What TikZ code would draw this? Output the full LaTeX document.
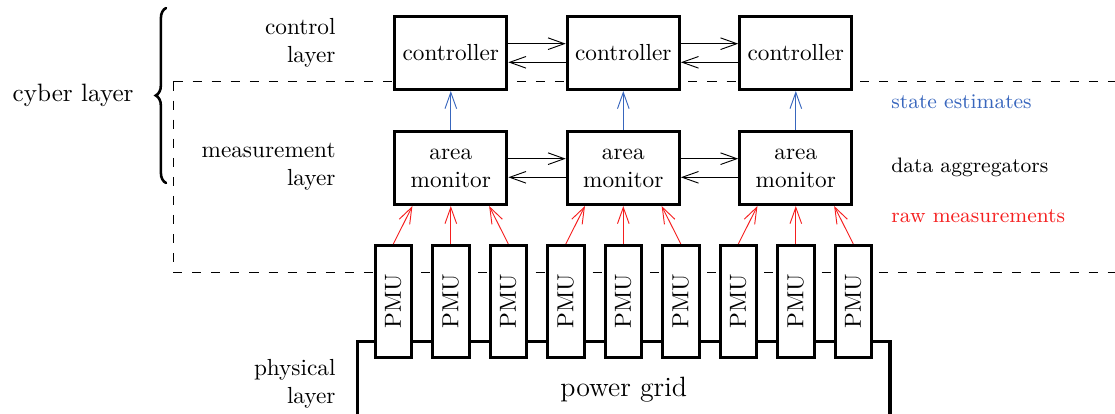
\documentclass[tikz,border=0pt]{standalone}
\usepackage{graphicx}
\usetikzlibrary{arrows.meta,calc,decorations.pathreplacing}
\definecolor{estblue}{rgb}{0.22,0.4,0.74}
\definecolor{rawred}{rgb}{0.96,0.12,0.12}
\begin{document}
\begin{tikzpicture}[x=0.43pt,y=-0.43pt,
  box/.style={draw,line width=1.3pt,fill=white,minimum width=48.2pt,minimum height=31.4pt,inner sep=1pt,align=center},
  pmubox/.style={draw,line width=1.3pt,fill=white,minimum width=15.7pt,minimum height=48.2pt,inner sep=0pt},
  gridbox/.style={draw,line width=1.3pt,fill=white,minimum width=229pt,minimum height=41.7pt,inner sep=0pt},
  link/.style={-{Straight Barb[length=7pt,width=5pt]},line width=0.4pt},
  estlink/.style={link,draw=estblue},
  rawlink/.style={link,draw=rawred},
  lbl/.style={align=right,anchor=east,inner sep=0pt},
  note/.style={anchor=west,inner sep=0pt,font=\small},
  region/.style={dash pattern=on 3.9pt off 4.3pt,line width=0.4pt},
  bracestyle/.style={decorate,decoration={brace,amplitude=4.4pt,raise=0pt},line width=1.1pt,line cap=round}]
\useasboundingbox (0,0) rectangle (1115,414);
\clip (0,0) rectangle (1115,414);

% cyber region (dashed)
\draw[region] (173.5,81.5) -- (1125,81.5);
\draw[region] (173.5,81.5) -- (173.5,272.5) -- (1125,272.5);

% power grid
\node[gridbox] (grid) at (623.7,390) {\large power grid};

% controllers
\node[box] (c1) at (450.8,53) {controller};
\node[box] (c2) at (623.3,53) {controller};
\node[box] (c3) at (795.8,53) {controller};

% area monitors
\node[box] (a1) at (450.8,168) {area\\monitor};
\node[box] (a2) at (623.3,168) {area\\monitor};
\node[box] (a3) at (795.8,168) {area\\monitor};

% PMUs
\foreach \i in {0,...,8}{
  \node[pmubox] (p\i) at (393.3+57.5*\i,301.5) {\rotatebox{90}{PMU}};
}

% controller links
\draw[link] ([yshift=4pt]c1.east) -- ([yshift=4pt]c2.west);
\draw[link] ([yshift=-4pt]c2.west) -- ([yshift=-4pt]c1.east);
\draw[link] ([yshift=4pt]c2.east) -- ([yshift=4pt]c3.west);
\draw[link] ([yshift=-4pt]c3.west) -- ([yshift=-4pt]c2.east);

% area monitor links
\draw[link] ([yshift=4pt]a1.east) -- ([yshift=4pt]a2.west);
\draw[link] ([yshift=-4pt]a2.west) -- ([yshift=-4pt]a1.east);
\draw[link] ([yshift=4pt]a2.east) -- ([yshift=4pt]a3.west);
\draw[link] ([yshift=-4pt]a3.west) -- ([yshift=-4pt]a2.east);

% state estimates
\draw[estlink] (a1.north) -- (c1.south);
\draw[estlink] (a2.north) -- (c2.south);
\draw[estlink] (a3.north) -- (c3.south);

% raw measurements
\draw[rawlink] (p0.north) -- ([xshift=-16.5pt]a1.south);
\draw[rawlink] (p1.north) -- (a1.south);
\draw[rawlink] (p2.north) -- ([xshift=16.5pt]a1.south);
\draw[rawlink] (p3.north) -- ([xshift=-16.5pt]a2.south);
\draw[rawlink] (p4.north) -- (a2.south);
\draw[rawlink] (p5.north) -- ([xshift=16.5pt]a2.south);
\draw[rawlink] (p6.north) -- ([xshift=-16.5pt]a3.south);
\draw[rawlink] (p7.north) -- (a3.south);
\draw[rawlink] (p8.north) -- ([xshift=16.5pt]a3.south);

% layer labels
\node[lbl] (lctl) at (336,43) {control\\layer};
\node[lbl] (lmeas) at (336,167) {measurement\\layer};
\node[lbl] (lphys) at (336,384) {physical\\layer};
\coordinate (btop) at (166,8);
\coordinate (bbot) at (166,183);
\draw[bracestyle] (bbot) -- (btop);
\node[anchor=east,inner sep=0pt,font=\fontsize{10.8}{13}\selectfont] (cyber) at (134,95.5) {cyber layer};

% notes
\node[note,text=estblue] (nest) at (891,102) {state estimates};
\node[note] (nagg) at (891,167.5) {data aggregators};
\node[note,text=rawred] (nraw) at (891,216) {raw measurements};
\end{tikzpicture}
\end{document}
